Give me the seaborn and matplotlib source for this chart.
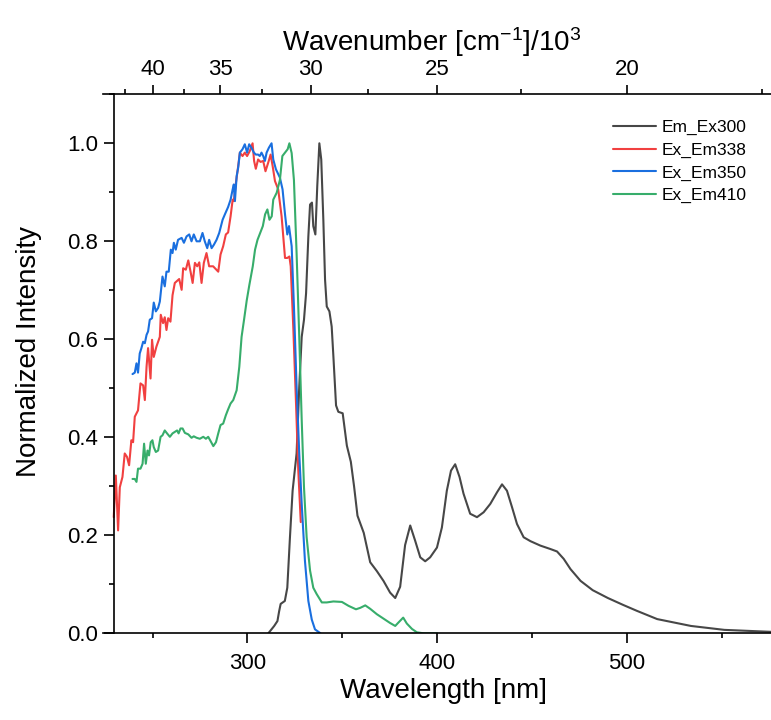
"""Normalized excitation / emission spectra with a wavenumber axis on top."""

import matplotlib

matplotlib.use("Agg")
import matplotlib.pyplot as plt
import numpy as np
import pandas as pd
import seaborn as sns
from matplotlib.ticker import FixedLocator, MultipleLocator


SERIES = ["Em_Ex300", "Ex_Em338", "Ex_Em350", "Ex_Em410"]
COLORS = ["#474747", "#F14040", "#1A6FDF", "#37AD6B"]

# Em_Ex300 (emission, excited at 300 nm)
EM_X = [311.0, 314.1, 315.8, 316.7, 317.5, 319.7, 321.0, 322.4, 323.8, 325.9, 327.3, 328.6,
        329.8, 330.9, 332.1, 333.0, 334.0, 334.7, 335.8, 336.8, 337.9, 338.9, 340.0, 340.9,
        341.8, 343.2, 344.4, 345.3, 346.7, 347.9, 350.2, 352.4, 354.5, 356.2, 358.0, 361.3,
        364.7, 368.2, 371.7, 375.2, 377.9, 380.5, 383.1, 385.8, 388.4, 391.1, 393.7, 396.3,
        399.9, 402.5, 405.1, 407.3, 409.5, 411.8, 413.9, 417.4, 421.0, 424.5, 428.0, 431.6,
        434.2, 436.8, 439.5, 442.1, 445.6, 449.2, 454.4, 459.7, 463.2, 466.7, 470.3, 475.6,
        482.0, 490.0, 498.0, 505.2, 516.0, 533.8, 551.4, 576.0]
EM_Y = [0.0, 0.015, 0.025, 0.045, 0.060, 0.066, 0.093, 0.196, 0.291, 0.367, 0.503, 0.605,
        0.640, 0.694, 0.810, 0.875, 0.879, 0.831, 0.814, 0.913, 1.000, 0.967, 0.844, 0.722,
        0.667, 0.657, 0.626, 0.565, 0.465, 0.452, 0.449, 0.383, 0.350, 0.300, 0.240, 0.205,
        0.145, 0.127, 0.107, 0.083, 0.072, 0.095, 0.180, 0.220, 0.189, 0.155, 0.147, 0.155,
        0.175, 0.216, 0.291, 0.332, 0.345, 0.319, 0.285, 0.244, 0.237, 0.247, 0.264, 0.288,
        0.304, 0.291, 0.257, 0.223, 0.196, 0.188, 0.179, 0.172, 0.167, 0.152, 0.131, 0.107,
        0.088, 0.072, 0.058, 0.046, 0.029, 0.015, 0.007, 0.003]

# Ex_Em338
R_X = [229.5, 230.6, 231.8, 232.7, 234.1, 235.3, 236.5, 237.6, 238.8, 239.7, 240.6, 242.3,
       243.6, 245.0, 245.9, 246.8, 247.6, 248.9, 249.7, 250.6, 252.0, 253.8, 254.3, 255.5,
       256.4, 257.3, 258.2, 259.4, 260.5, 261.7, 264.0, 265.3, 266.1, 267.5, 268.8, 270.0,
       271.1, 272.3, 273.5, 274.6, 275.8, 277.0, 278.4, 279.8, 281.9, 284.6, 285.8, 287.2,
       288.6, 289.8, 291.1, 292.2, 292.8, 293.9, 295.1, 296.0, 297.4, 298.6, 299.8, 301.2,
       302.7, 303.5, 304.4, 305.6, 306.9, 308.3, 309.5, 310.9, 312.2, 313.3, 314.5, 316.2,
       318.0, 319.8, 321.0, 322.1, 322.8, 324.2, 325.6, 326.8, 328.1]
R_Y = [0.237, 0.322, 0.210, 0.298, 0.319, 0.367, 0.360, 0.343, 0.394, 0.390, 0.442, 0.455,
       0.510, 0.506, 0.476, 0.544, 0.582, 0.520, 0.599, 0.564, 0.585, 0.605, 0.650, 0.633,
       0.645, 0.619, 0.643, 0.636, 0.690, 0.715, 0.723, 0.701, 0.745, 0.742, 0.761, 0.738,
       0.715, 0.756, 0.749, 0.757, 0.715, 0.756, 0.776, 0.749, 0.749, 0.738, 0.773, 0.790,
       0.814, 0.818, 0.851, 0.885, 0.882, 0.919, 0.953, 0.981, 0.974, 0.981, 0.974, 0.984,
       1.000, 0.964, 0.948, 0.967, 0.962, 0.964, 0.943, 0.960, 0.977, 0.953, 0.923, 0.906,
       0.851, 0.766, 0.766, 0.769, 0.749, 0.620, 0.469, 0.332, 0.227]

# Ex_Em350
B_X = [239.4, 240.6, 241.5, 242.3, 243.2, 244.1, 245.0, 245.9, 246.8, 247.6, 248.5, 249.7,
       250.6, 251.7, 252.9, 253.8, 255.2, 256.4, 257.3, 258.5, 259.6, 260.5, 261.2, 262.2,
       263.4, 265.3, 266.5, 267.9, 269.3, 270.5, 271.7, 273.2, 274.9, 276.3, 277.5, 278.8,
       279.8, 281.1, 282.3, 283.7, 285.1, 286.9, 288.1, 289.8, 291.1, 292.2, 292.8, 293.4,
       294.3, 295.1, 296.0, 297.4, 298.6, 299.8, 300.9, 302.1, 303.4, 304.4, 305.6, 306.5,
       307.4, 308.3, 309.2, 310.1, 311.3, 312.7, 313.6, 315.0, 317.1, 318.5, 319.8, 321.0,
       321.9, 323.3, 324.5, 325.9, 327.3, 328.6, 330.3, 332.1, 333.9, 335.6, 338.5]
B_Y = [0.529, 0.532, 0.551, 0.532, 0.571, 0.582, 0.595, 0.592, 0.609, 0.616, 0.640, 0.643,
       0.675, 0.657, 0.664, 0.677, 0.728, 0.708, 0.738, 0.738, 0.783, 0.776, 0.797, 0.783,
       0.803, 0.807, 0.797, 0.810, 0.814, 0.800, 0.814, 0.800, 0.800, 0.817, 0.800, 0.786,
       0.803, 0.786, 0.793, 0.803, 0.817, 0.844, 0.855, 0.870, 0.885, 0.906, 0.916, 0.882,
       0.933, 0.950, 0.981, 0.988, 0.998, 0.981, 0.998, 0.991, 0.981, 0.977, 0.977, 0.974,
       0.981, 0.974, 0.964, 0.981, 0.991, 1.000, 0.967, 0.947, 0.930, 0.906, 0.855, 0.814,
       0.831, 0.790, 0.667, 0.503, 0.367, 0.264, 0.148, 0.066, 0.028, 0.008, 0.000]

# Ex_Em410
G_X = [239.4, 240.6, 241.5, 242.3, 243.6, 244.7, 245.5, 246.4, 247.3, 248.1, 249.0, 249.9,
       250.6, 251.7, 252.9, 254.2, 255.2, 256.4, 257.6, 259.1, 260.5, 261.7, 262.9, 263.7,
       264.7, 265.8, 267.0, 268.8, 270.5, 271.7, 273.2, 274.9, 276.7, 278.1, 279.3, 280.6,
       282.0, 283.4, 284.6, 285.8, 287.2, 288.6, 289.8, 291.1, 292.5, 294.3, 295.7, 296.9,
       298.2, 299.6, 301.0, 302.8, 304.0, 305.3, 306.7, 308.1, 309.3, 310.5, 311.6, 312.8,
       313.6, 315.4, 317.1, 318.4, 319.8, 321.2, 322.1, 323.3, 324.5, 325.9, 327.3, 328.6,
       329.8, 331.2, 333.0, 334.7, 336.5, 339.2, 341.8, 345.3, 349.8, 353.3, 357.2, 359.5,
       362.1, 364.7, 368.2, 371.7, 375.2, 377.9, 379.6, 382.1, 384.0, 386.7, 389.3, 392.8,
       400.0]
G_Y = [0.315, 0.315, 0.309, 0.336, 0.336, 0.346, 0.387, 0.346, 0.373, 0.363, 0.390, 0.394,
       0.380, 0.370, 0.373, 0.401, 0.404, 0.414, 0.408, 0.401, 0.408, 0.411, 0.414, 0.408,
       0.418, 0.418, 0.409, 0.406, 0.399, 0.402, 0.399, 0.397, 0.401, 0.397, 0.401, 0.392,
       0.382, 0.390, 0.408, 0.425, 0.428, 0.445, 0.457, 0.469, 0.476, 0.496, 0.544, 0.605,
       0.640, 0.679, 0.711, 0.749, 0.783, 0.803, 0.817, 0.831, 0.855, 0.865, 0.844, 0.851,
       0.885, 0.899, 0.925, 0.974, 0.981, 0.988, 1.000, 0.980, 0.925, 0.776, 0.605, 0.435,
       0.298, 0.196, 0.128, 0.093, 0.080, 0.063, 0.063, 0.065, 0.064, 0.056, 0.049, 0.052,
       0.057, 0.050, 0.039, 0.030, 0.021, 0.015, 0.022, 0.032, 0.020, 0.009, 0.002, 0.000,
       0.000]

X_TICKS = [300, 400, 500]
WN_TICKS = [40, 35, 30, 25, 20]
WN_MINOR = [42.5, 37.5, 32.5, 27.5, 22.5, 17.5]


def to_wavenumber(x):
    x = np.asarray(x, dtype=float)
    with np.errstate(divide="ignore", invalid="ignore"):
        return np.where(x != 0, 1e4 / np.where(x == 0, 1, x), np.inf)


sns.set_theme(style="ticks")
plt.rcParams["font.family"] = ["Liberation Sans", "DejaVu Sans"]
plt.rcParams.update({
    "mathtext.fontset": "custom",
    "mathtext.rm": "Liberation Sans",
    "mathtext.it": "Liberation Sans:italic",
    "mathtext.default": "regular",
    "text.color": "black",
    "axes.labelcolor": "black",
    "axes.edgecolor": "black",
    "xtick.color": "black",
    "ytick.color": "black",
})

data = pd.concat(
    [
        pd.DataFrame({"wavelength": xs, "intensity": ys, "series": name})
        for name, xs, ys in zip(SERIES, [EM_X, R_X, B_X, G_X], [EM_Y, R_Y, B_Y, G_Y])
    ],
    ignore_index=True,
)

W, H = 771, 720
fig = plt.figure(figsize=(W / 100, H / 100), dpi=100)
ax = fig.add_axes([103.3 / W, (H - 633.3) / H, (W - 103.3) / W, (633.3 - 94.3) / H])

sns.lineplot(
    data=data, x="wavelength", y="intensity", hue="series", hue_order=SERIES,
    palette=COLORS, estimator=None, sort=False, linewidth=1.5, ax=ax,
)

ax.set_xlim(224, 576)
ax.set_ylim(0, 1.1)
ax.spines["left"].set_position(("data", 229.5))
ax.spines["right"].set_visible(False)
ax.spines["top"].set_visible(False)
for side in ["left", "bottom"]:
    ax.spines[side].set_linewidth(1.2)

ax.xaxis.set_major_locator(FixedLocator(X_TICKS))
ax.xaxis.set_minor_locator(MultipleLocator(50))
ax.yaxis.set_major_locator(MultipleLocator(0.2))
ax.yaxis.set_minor_locator(MultipleLocator(0.1))
ax.tick_params(which="major", length=7.2, width=1.2, labelsize=16, direction="out")
ax.tick_params(which="minor", length=3.6, width=1.2, direction="out")
ax.tick_params(axis="x", which="major", pad=7)
ax.tick_params(axis="y", which="major", pad=4)

ax.set_xlabel("Wavelength [nm]", fontsize=20)
ax.xaxis.set_label_coords(0.509, -0.083)
ax.set_ylabel("Normalized Intensity", fontsize=20)
ax.yaxis.set_label_coords(-0.092, 0.522)

sec = ax.secondary_xaxis("top", functions=(to_wavenumber, to_wavenumber))
sec.spines["top"].set_linewidth(1.2)
sec.set_xticks(WN_TICKS)
sec.xaxis.set_minor_locator(FixedLocator(WN_MINOR))
sec.tick_params(which="major", length=6.5, width=1.2, labelsize=16, direction="out", pad=4)
sec.tick_params(which="minor", length=3.3, width=1.2, direction="out")
sec.set_xlabel("Wavenumber [cm$^{-1}$]/10$^3$", fontsize=20)
sec.xaxis.set_label_coords(0.492, 1.080, transform=ax.transAxes)

old = ax.get_legend()
handles = old.legend_handles
labels = [t.get_text() for t in old.get_texts()]
old.remove()
for h, c in zip(handles, COLORS):
    h.set_color(c)
    h.set_linewidth(1.5)
ax.legend(
    handles, labels, loc="upper left", bbox_to_anchor=(0.7638, 0.952),
    frameon=False, fontsize=12.5, borderpad=0, borderaxespad=0,
    handlelength=2.44, handletextpad=0.32, labelspacing=0.42,
)

fig.savefig("out.png", dpi=100)
